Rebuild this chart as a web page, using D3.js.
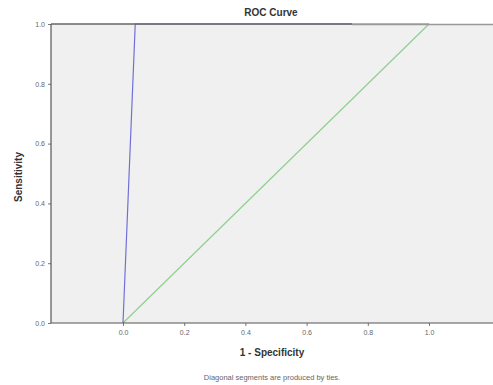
<!DOCTYPE html>
<html><head><meta charset="utf-8">
<script src="https://cdn.jsdelivr.net/npm/d3@7"></script>
<style>body{margin:0;background:#fff;}svg{display:block;font-family:Arial,"Liberation Sans",sans-serif;}</style>
</head><body>
<svg id="c" width="493" height="385"></svg>
<script>
const rocFpr = [0.0, 0.04, 1.0];
const rocTpr = [0.0, 1.0, 1.0];
const refFpr = [0.0, 1.0];
const refTpr = [0.0, 1.0];
const xTicks = [0.0, 0.2, 0.4, 0.6, 0.8, 1.0];
const yTicks = [0.0, 0.2, 0.4, 0.6, 0.8, 1.0];

(function(){
const svg = d3.select("#c");
const pL = 51, pR = 493, pT = 24, pB = 323;
const x = d3.scaleLinear().domain([0, 1]).range([123, 429]);
const y = d3.scaleLinear().domain([0, 1]).range([pB, pT]);

svg.append("rect").attr("x", pL).attr("y", pT).attr("width", pR-pL).attr("height", pB-pT).attr("fill", "#f0f0f0");

const line = d3.line().x(d => x(d[0])).y(d => y(d[1]));
svg.append("path").datum(refFpr.map((v,i)=>[v, refTpr[i]])).attr("d", line).attr("fill","none").attr("stroke","#8fd08f").attr("stroke-width",1.2);
svg.append("path").datum(rocFpr.map((v,i)=>[v, rocTpr[i]])).attr("d", line).attr("fill","none").attr("stroke","#6f6fd8").attr("stroke-width",1.2);

svg.append("line").attr("x1", pL).attr("x2", 352).attr("y1", pT).attr("y2", pT).attr("stroke", "#666").attr("stroke-width", 1.6);
svg.append("line").attr("x1", 352).attr("x2", pR).attr("y1", pT+0.5).attr("y2", pT+0.5).attr("stroke", "#999").attr("stroke-width", 1.4);

const xAxis = d3.axisBottom(x).tickValues(xTicks).tickFormat(d3.format(".1f")).tickSize(3).tickSizeOuter(0);
const gx = svg.append("g").attr("transform", `translate(0,${pB})`).call(xAxis);
gx.select(".domain").remove();
svg.append("line").attr("x1", pL).attr("x2", pR).attr("y1", pB).attr("y2", pB).attr("stroke", "#555").attr("stroke-width", 1.2);
gx.selectAll("text").attr("font-size", 7).attr("fill", "#666").attr("dy", "0.9em");
gx.selectAll("line").attr("stroke", "#777");

const yAxis = d3.axisLeft(y).tickValues(yTicks).tickFormat(d3.format(".1f")).tickSize(3).tickSizeOuter(0);
const gy = svg.append("g").attr("transform", `translate(${pL},0)`).call(yAxis);
gy.select(".domain").remove();
svg.append("line").attr("x1", pL).attr("x2", pL).attr("y1", pT).attr("y2", pB).attr("stroke", "#555").attr("stroke-width", 1.2);
gy.selectAll("text").attr("font-size", 7).attr("fill", "#666");
gy.selectAll("line").attr("stroke", "#777");

svg.append("text").attr("x", 271).attr("y", 16).attr("text-anchor","middle").attr("font-size",10).attr("font-weight","bold").attr("fill","#333").text("ROC Curve");
svg.append("text").attr("x", 272).attr("y", 356).attr("text-anchor","middle").attr("font-size",10).attr("font-weight","bold").attr("fill","#333").text("1 - Specificity");
svg.append("text").attr("transform","translate(22,177) rotate(-90)").attr("text-anchor","middle").attr("font-size",10).attr("font-weight","bold").attr("fill","#333").text("Sensitivity");
svg.append("text").attr("x", 272).attr("y", 380).attr("text-anchor","middle").attr("font-size",7.5).attr("fill","#666").text("Diagonal segments are produced by ties.");
})();
</script>
</body></html>
